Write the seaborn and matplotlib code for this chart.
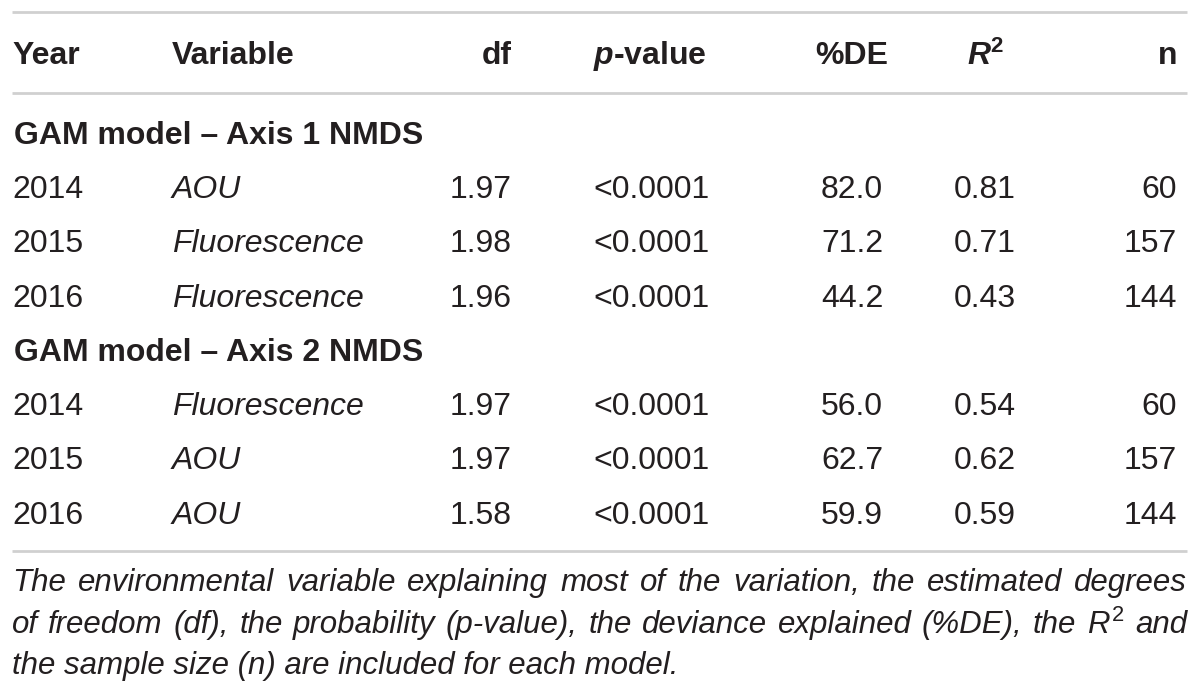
import matplotlib.pyplot as plt
import seaborn as sns

# -------------------- DATOS --------------------
headers = ["Year", "Variable", "df", "p-value", "%DE", "R2", "n"]
sections = ["GAM model – Axis 1 NMDS", "GAM model – Axis 2 NMDS"]
years = [["2014", "2015", "2016"], ["2014", "2015", "2016"]]
variables = [["AOU", "Fluorescence", "Fluorescence"], ["Fluorescence", "AOU", "AOU"]]
dfs = [["1.97", "1.98", "1.96"], ["1.97", "1.97", "1.58"]]
pvals = [["<0.0001", "<0.0001", "<0.0001"], ["<0.0001", "<0.0001", "<0.0001"]]
de = [["82.0", "71.2", "44.2"], ["56.0", "62.7", "59.9"]]
r2 = [["0.81", "0.71", "0.43"], ["0.54", "0.62", "0.59"]]
ns = [["60", "157", "144"], ["60", "157", "144"]]
caption = [
    "The environmental variable explaining most of the variation, the estimated degrees",
    r"of freedom (df), the probability (p-value), the deviance explained (%DE), the $\mathit{R}^{\mathrm{2}}$ and",
    "the sample size (n) are included for each model.",
]

# -------------------- ESTILO --------------------
sns.set_theme(style="white")
plt.rcParams["font.family"] = ["Liberation Sans", "DejaVu Sans"]
plt.rcParams["mathtext.fontset"] = "custom"
plt.rcParams["mathtext.rm"] = "Liberation Sans"
plt.rcParams["mathtext.it"] = "Liberation Sans:italic"
plt.rcParams["mathtext.bf"] = "Liberation Sans:bold"
plt.rcParams["mathtext.bfit"] = "Liberation Sans:italic:bold"

fs = 23
txt = "#231f20"
linec = "#d0d0d0"
dy = 3  # pequeño ajuste vertical del texto

# columnas: (x, alineacion)
cols = [(12, "left"), (172, "left"), (512, "right"), (593, "left"),
        (852, "center"), (985, "center"), (1177, "right")]

fig = plt.figure(figsize=(12, 7), dpi=100)
ax = fig.add_axes([0, 0, 1, 1])
ax.set_xlim(0, 1200)
ax.set_ylim(700, 0)
ax.axis("off")

# lineas horizontales
for y in [12, 93, 551]:
    ax.hlines(y, 12, 1187, color=linec, lw=2)

# encabezado
head_labels = ["Year", "Variable", "df", r"$\mathbfit{p}$-value", "%DE",
               r"$\mathbfit{R}^{\mathbf{2}}$", "n"]
for (x, ha), lab in zip(cols, head_labels):
    ax.text(x, 53 + dy, lab, ha=ha, va="center", fontsize=fs, fontweight="bold", color=txt)

# filas
row_y = [[187, 241, 296], [404, 458, 513]]
sec_y = [133, 350]
for s in range(2):
    ax.text(14, sec_y[s] + dy, sections[s], ha="left", va="center", fontsize=fs,
            fontweight="bold", color=txt)
    for i in range(3):
        vals = [years[s][i], variables[s][i], dfs[s][i], pvals[s][i],
                de[s][i], r2[s][i], ns[s][i]]
        for j, ((x, ha), v) in enumerate(zip(cols, vals)):
            ax.text(x, row_y[s][i] + dy, v, ha=ha, va="center", fontsize=fs,
                    style="italic" if j == 1 else "normal", color=txt)

# leyenda de la tabla (justificada salvo la ultima linea)
renderer = fig.canvas.get_renderer()
cap_fs = 22.5
x0, x1 = 12, 1187
for k, (line, y) in enumerate(zip(caption, [580, 622, 663])):
    y = y + dy
    if k == len(caption) - 1:
        ax.text(x0, y, line, ha="left", va="center", fontsize=cap_fs, style="italic", color=txt)
        continue
    words = line.split(" ")
    arts = [ax.text(0, y, w, ha="left", va="center", fontsize=cap_fs, style="italic", color=txt)
            for w in words]
    widths = [a.get_window_extent(renderer).width for a in arts]
    gap = (x1 - x0 - sum(widths)) / (len(words) - 1)
    x = x0
    for a, w in zip(arts, widths):
        a.set_x(x)
        x += w + gap

fig.savefig("out.png", dpi=100, facecolor="white")
